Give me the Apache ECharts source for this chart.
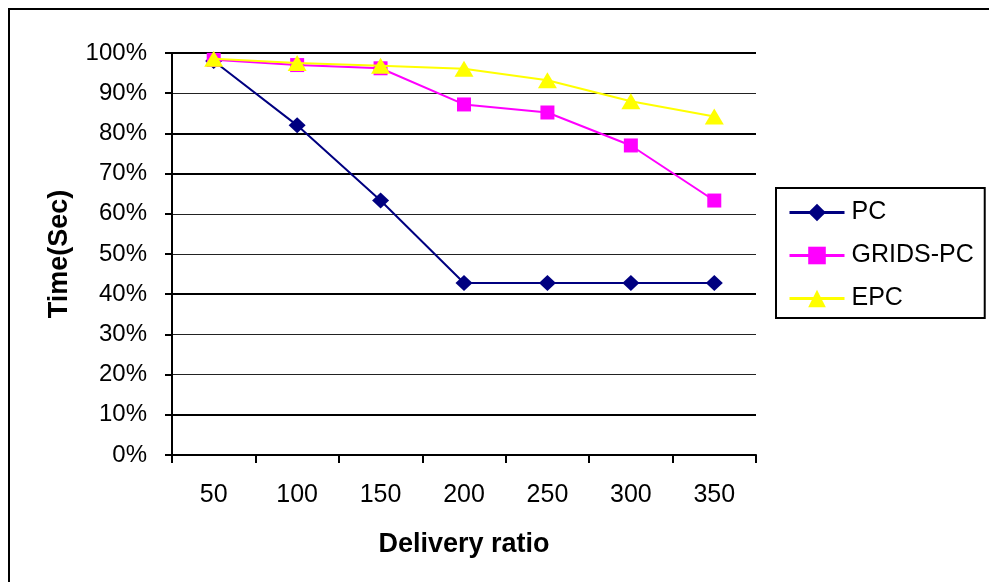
<!DOCTYPE html>
<html>
<head>
<meta charset="utf-8">
<script src="https://cdn.jsdelivr.net/npm/echarts@6/dist/echarts.min.js"></script>
<style>
  html, body { margin: 0; padding: 0; background: #fff; }
  #chart { width: 989px; height: 582px; }
</style>
</head>
<body>
<div id="chart"></div>
<script>
// Delivery ratio categories (x axis)
const categories = ['50', '100', '150', '200', '250', '300', '350'];

// Percentages per series
const pcValues      = [98, 82, 63.3, 42.8, 42.8, 42.8, 42.8];
const gridsPcValues = [98.3, 97, 96.2, 87.2, 85.2, 77, 63.3];
const epcValues     = [98.6, 97.5, 96.8, 96.1, 93.2, 88, 84.2];

const seriesNames = ['PC', 'GRIDS-PC', 'EPC'];

const FONT = '"Liberation Sans", Arial, sans-serif';

const chart = echarts.init(document.getElementById('chart'), null, { renderer: 'canvas' });

// Heavier rules on some of the grid lines
const heavyRuleColors = ['transparent', '#000', 'transparent', 'transparent', '#000',
  'transparent', 'transparent', '#000', '#000', 'transparent', '#000'];

chart.setOption({
  animation: false,
  backgroundColor: '#fff',
  graphic: [{
    type: 'rect',
    shape: { x: 9, y: 9, width: 1000, height: 600 },
    style: { fill: 'none', stroke: '#000', lineWidth: 2 },
    silent: true
  }],
  grid: { left: 172, top: 53, width: 584, height: 402 },
  legend: {
    orient: 'vertical',
    left: 776,
    top: 188,
    padding: [12, 11, 7, 12],
    itemGap: 18,
    itemWidth: 55,
    itemHeight: 22,
    lineStyle: { width: 3 },
    borderColor: '#000',
    borderWidth: 2,
    textStyle: { fontFamily: FONT, fontSize: 25, color: '#000', padding: [0, 0, 0, 2] },
    data: seriesNames
  },
  xAxis: {
    type: 'category',
    data: categories,
    boundaryGap: true,
    name: 'Delivery ratio',
    nameLocation: 'middle',
    nameGap: 76,
    nameTextStyle: { fontFamily: FONT, fontSize: 27, fontWeight: 'bold', color: '#000' },
    axisLine: { lineStyle: { color: '#000', width: 2 } },
    axisTick: { show: true, length: 8, lineStyle: { color: '#000', width: 2 } },
    axisLabel: { fontFamily: FONT, fontSize: 25, color: '#000', margin: 28 },
    splitLine: { show: false }
  },
  yAxis: [{
    type: 'value',
    min: 0,
    max: 100,
    interval: 10,
    name: 'Time(Sec)',
    nameLocation: 'middle',
    nameGap: 99,
    nameTextStyle: { fontFamily: FONT, fontSize: 27, fontWeight: 'bold', color: '#000' },
    axisLine: { show: true, lineStyle: { color: '#000', width: 2 } },
    axisTick: { show: true, length: 7, lineStyle: { color: '#000', width: 2 } },
    axisLabel: { fontFamily: FONT, fontSize: 24, color: '#000', margin: 25, formatter: '{value}%' },
    splitLine: { show: true, lineStyle: { color: '#222', width: 1 } }
  }, {
    type: 'value',
    min: 0,
    max: 100,
    interval: 10,
    position: 'left',
    axisLine: { show: false },
    axisTick: { show: false },
    axisLabel: { show: false },
    splitLine: { show: true, lineStyle: { color: heavyRuleColors, width: 2 } }
  }],
  series: [{
    name: seriesNames[0],
    type: 'line',
    data: pcValues,
    symbol: 'diamond',
    symbolSize: [17, 16],
    lineStyle: { color: '#000080', width: 2 },
    itemStyle: { color: '#000080' },
    z: 3
  }, {
    name: seriesNames[1],
    type: 'line',
    data: gridsPcValues,
    symbol: 'rect',
    symbolSize: 14,
    lineStyle: { color: '#FF00FF', width: 2 },
    itemStyle: { color: '#FF00FF' },
    z: 4
  }, {
    name: seriesNames[2],
    type: 'line',
    data: epcValues,
    symbol: 'triangle',
    symbolSize: [19, 16],
    lineStyle: { color: '#FFFF00', width: 2 },
    itemStyle: { color: '#FFFF00' },
    z: 5
  }]
});
</script>
</body>
</html>
